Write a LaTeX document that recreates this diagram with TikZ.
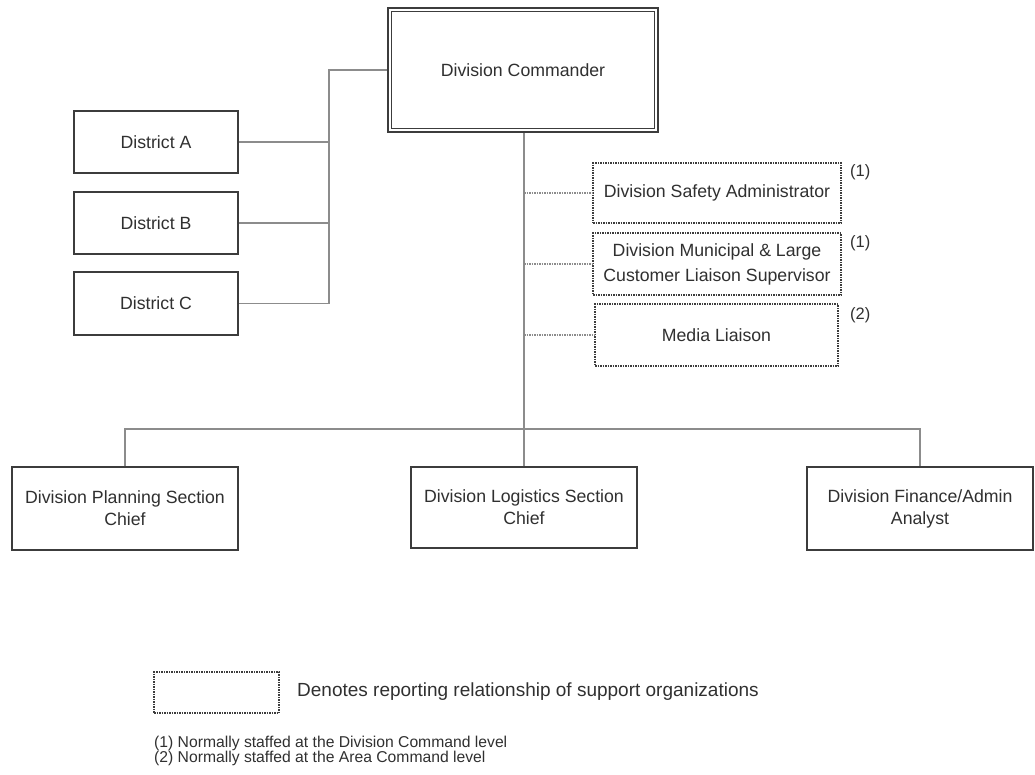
\documentclass[tikz,border=0pt]{standalone}
\usepackage{fontspec}
\setmainfont{Liberation Sans}
\usetikzlibrary{calc}

\definecolor{boxline}{HTML}{3C3C3C}
\definecolor{linkline}{HTML}{8C8C8C}
\definecolor{inkgray}{HTML}{303030}

\tikzset{
  orgbox/.style={draw=boxline, line width=1.5pt, fill=white, align=center,
    text=inkgray, inner sep=2pt, font=\fontsize{17.7}{22}\selectfont},
  supbox/.style={orgbox, densely dotted},
  link/.style={draw=linkline, line width=1.8pt},
  sublink/.style={draw=linkline, line width=1.5pt, densely dotted},
  note/.style={text=inkgray, inner sep=0pt, anchor=west},
}

\begin{document}
\begin{tikzpicture}[x=1pt, y=-1pt]
\useasboundingbox (0,0) rectangle (1035,774);

% command level
\node[orgbox, line width=2.6pt, minimum width=270pt, minimum height=124pt] (cmd) at (523,70) {Division Commander};
\draw[boxline, line width=1pt] ([shift={(4.5,4.5)}]cmd.north west) rectangle ([shift={(-4.5,-4.5)}]cmd.south east);

% districts
\node[orgbox, minimum width=164pt, minimum height=62pt] (dA) at (156,142) {District A};
\node[orgbox, minimum width=164pt, minimum height=62pt] (dB) at (156,223) {District B};
\node[orgbox, minimum width=164pt, minimum height=63pt] (dC) at (156,303.5) {District C};

% support organizations
\node[supbox, minimum width=248pt, minimum height=60pt] (saf) at (717,193) {Division Safety Administrator};
\node[supbox, minimum width=248pt, minimum height=62pt, font=\fontsize{17.7}{25}\selectfont] (mun) at (717,264) {Division Municipal \& Large\\Customer Liaison Supervisor};
\node[supbox, minimum width=243pt, minimum height=62pt] (med) at (716.5,335) {Media Liaison};

\node[note, font=\fontsize{16.5}{20}\selectfont] (n1) at (850,172) {(1)};
\node[note, font=\fontsize{16.5}{20}\selectfont] (n2) at (850,243) {(1)};
\node[note, font=\fontsize{16.5}{20}\selectfont] (n3) at (850,315) {(2)};

% sections
\node[orgbox, minimum width=226pt, minimum height=83pt] (plan) at (125,508.5) {Division Planning Section\\Chief};
\node[orgbox, minimum width=226pt, minimum height=81pt] (logi) at (524,507.5) {Division Logistics Section\\Chief};
\node[orgbox, minimum width=226pt, minimum height=83pt] (fin) at (920,508.5) {Division Finance/Admin\\Analyst};

% bus coordinates
\coordinate (lbus) at (329,70);
\coordinate (hbar) at (524,429);

% connectors to districts
\draw[link] (cmd.west) -- (lbus) |- (dC.east);
\draw[link] (dA.east) -- (dA.east -| lbus);
\draw[link] (dB.east) -- (dB.east -| lbus);

% main trunk and section bar
\draw[link] (cmd.south -| hbar) -- (hbar);
\draw[link] (plan.north) -- (plan.north |- hbar) -- (fin.north |- hbar) -- (fin.north);
\draw[link] (logi.north) -- (logi.north |- hbar);

% support reporting lines
\draw[sublink] (saf.west -| hbar) -- (saf.west);
\draw[sublink] (mun.west -| hbar) -- (mun.west);
\draw[sublink] (med.west -| hbar) -- (med.west);

% legend
\node[supbox, minimum width=125pt, minimum height=41pt] (leg) at (216.5,692.5) {};
\node[note, font=\fontsize{19}{22}\selectfont] (legtext) at (297,692) {Denotes reporting relationship of support organizations};
\node[note, font=\fontsize{15.7}{18}\selectfont] (f1) at (154,743) {(1) Normally staffed at the Division Command level};
\node[note, font=\fontsize{15.7}{18}\selectfont] (f2) at (154,758.5) {(2) Normally staffed at the Area Command level};
\end{tikzpicture}
\end{document}
